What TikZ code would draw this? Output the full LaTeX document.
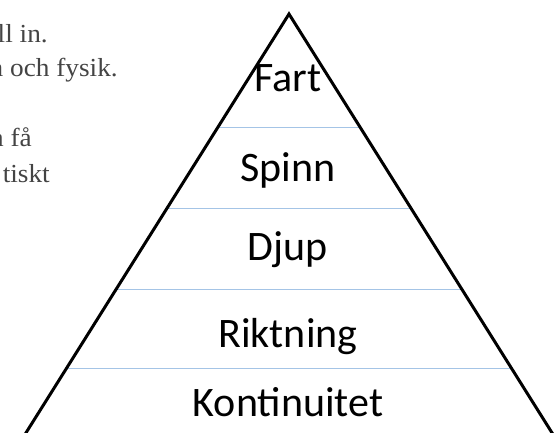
\documentclass[tikz,border=0pt]{standalone}
\usepackage{fontspec}
\setmainfont[FakeStretch=1.05]{Liberation Serif}
\newfontfamily\labfont{Carlito}
\definecolor{sepblue}{HTML}{A4C4E6}
\definecolor{bodygray}{HTML}{444444}
\begin{document}
\begin{tikzpicture}[x=1pt,y=1pt,
  lab/.style={font=\labfont\fontsize{42}{50}\selectfont, anchor=base, inner sep=0pt},
  body/.style={font=\fontsize{26}{30}\selectfont, text=bodygray, anchor=base east, inner sep=0pt},
  sep/.style={draw=sepblue, line width=1pt},
  edge/.style={draw=black, line width=3pt}]
\useasboundingbox (0,0) rectangle (560,432);
\clip (0,0) rectangle (560,432);
% body text fragments (cut off at the left edge, as in the reference)
\node[body] (t1) at (48,389) {ll in.};
\node[body] (t2) at (118,355) {a och fysik.};
\node[body] (t3) at (32,285) {a få};
\node[body] (t4) at (50,250) {tiskt};
% triangle
\coordinate (apex) at (289,418);
\coordinate (bl) at (289-0.628*428,-10);
\coordinate (br) at (289+0.628*428,-10);
% separators
\foreach \y/\n in {304/a,224/b,143/c,64/d}{
  \coordinate (l\n) at ({289-0.628*(418-\y)},\y);
  \coordinate (r\n) at ({289+0.628*(418-\y)},\y);
  \draw[sep] (l\n) -- (r\n);
}
\draw[edge, line join=miter] (bl) -- (apex) -- (br);
% labels
\node[lab] (fart) at (288,340) {Fart};
\node[lab] (spinn) at (288,251) {Spinn};
\node[lab] (djup) at (288,172) {Djup};
\node[lab] (rikt) at (288,85) {Riktning};
\node[lab] (kont) at (288,16) {Kontinuitet};
\end{tikzpicture}
\end{document}
